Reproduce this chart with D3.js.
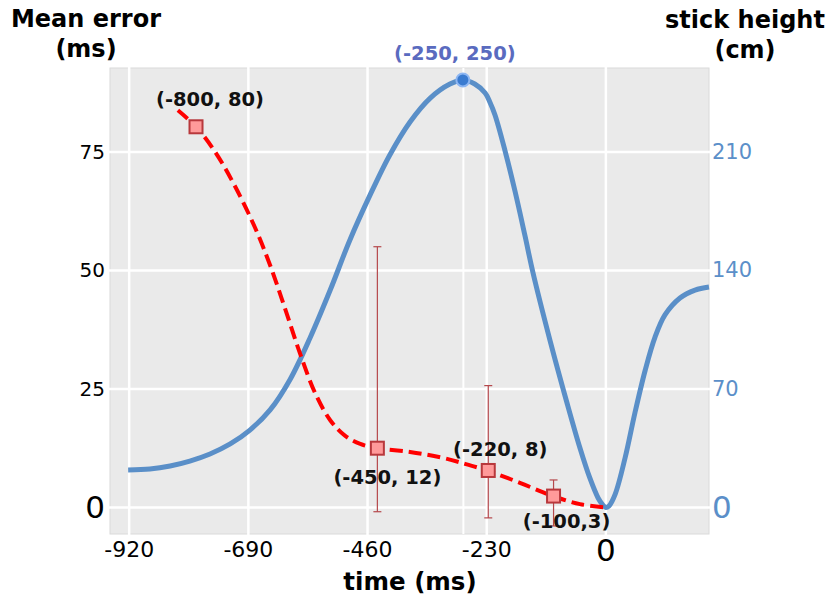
<!DOCTYPE html>
<html><head><meta charset="utf-8">
<script src="https://cdn.jsdelivr.net/npm/d3@7"></script>
<style>body{margin:0;background:#fff}svg{display:block}text{font-family:"DejaVu Sans",sans-serif}</style>
</head><body><svg id="c" width="830" height="598"></svg>
<script>
// ---- data ----
const xTicks = [-920, -690, -460, -230, 0];
const xTickLabels = ["-920", "-690", "-460", "-230", "0"];
const yLeftTicks = [0, 25, 50, 75];
const yRightTicks = [0, 70, 140, 210];
const extraXGrid = [-275];

// stick height (cm) vs time (ms)
const stickTime = [-922,-880,-841,-803,-764,-725,-687,-648,-610,-571,-532,-494,-455,-417,-378,-339,-301,-276,-253,-233,-224,-214,-195,-175,-156,-141,-108,-75,-50,-31,-15,-6,0,6,18,37,56,76,95,114,143,172,199];
const stickHeight = [22.1,22.7,24.5,27.4,31.6,37.5,45.7,57.6,75.3,100.1,128.4,158.0,184.6,208.2,227.7,241.8,250.1,252.5,250.1,244.8,239.5,231.8,211.1,186.3,160.3,139.1,98.9,61.7,35.1,17.4,5.6,1.5,0,0.9,7.9,29.2,55.8,81.2,100.7,113.7,123.7,128.4,130.2];
const peakTime = -276, peakHeight = 252.5, peakLabel = "(-250, 250)";

// mean error curve (ms)
const errCurveTime = [-826,-791,-754,-716,-677,-648,-619,-590,-561,-532,-503,-474,-442,-378,-320,-272,-227,-166,-102,-50,0];
const errCurveVal = [83.8,80.3,75.0,67.8,59.0,51.1,41.9,32.4,24.1,18.4,15.1,13.4,12.5,11.7,10.6,9.2,7.7,5.2,2.4,0.7,0];

// measured points
const ptTime = [-791, -441, -227, -101];
const ptVal = [80.3, 12.5, 7.8, 2.4];
const ptLow = [null, -0.9, -2.2, -3.9];
const ptHigh = [null, 55.0, 25.7, 5.8];
const ptLabels = ["(-800, 80)", "(-450, 12)", "(-220, 8)", "(-100,3)"];

// ---- layout ----
const svg = d3.select("#c");
const L = 110, R = 709, T = 68, B = 534;
const x = d3.scaleLinear().domain([-957, 199]).range([L, R]);
const yL = d3.scaleLinear().domain([-5.6, 92.7]).range([B, T]);
const yR = d3.scaleLinear().domain([-15.68, 259.56]).range([B, T]);

svg.append("rect").attr("x", L).attr("y", T).attr("width", R - L).attr("height", B - T)
  .attr("fill", "#eaeaea").attr("stroke", "#dadada").attr("stroke-width", 1);

const g = svg.append("g");
g.selectAll(".vg").data(xTicks).join("line")
  .attr("x1", d => x(d)).attr("x2", d => x(d)).attr("y1", T - 5).attr("y2", B + 5)
  .attr("stroke", "#fff").attr("stroke-width", 2.5);
g.selectAll(".vg2").data(extraXGrid).join("line")
  .attr("x1", d => x(d)).attr("x2", d => x(d)).attr("y1", T).attr("y2", B)
  .attr("stroke", "#fff").attr("stroke-width", 2);
g.selectAll(".hg").data(yLeftTicks).join("line")
  .attr("x1", L - 4).attr("x2", R + 6).attr("y1", d => yL(d)).attr("y2", d => yL(d))
  .attr("stroke", "#fff").attr("stroke-width", 2.5);

// tick labels
svg.selectAll(".xt").data(xTicks).join("text")
  .attr("x", d => x(d)).attr("y", d => d === 0 ? 561 : 557)
  .attr("text-anchor", "middle")
  .attr("font-size", d => d === 0 ? 31 : 22)
  .attr("fill", "#000")
  .text((d, i) => xTickLabels[i]);
svg.selectAll(".yl").data(yLeftTicks).join("text")
  .attr("x", 105).attr("y", d => yL(d) + (d === 0 ? 11 : 7))
  .attr("text-anchor", "end")
  .attr("font-size", d => d === 0 ? 31 : 20)
  .attr("fill", "#000").text(d => d);
svg.selectAll(".yr").data(yRightTicks).join("text")
  .attr("x", 712).attr("y", d => yR(d) + (d === 0 ? 11 : 7))
  .attr("text-anchor", "start")
  .attr("font-size", d => d === 0 ? 31 : 21)
  .attr("fill", "#5b8fc9").text(d => d);

// axis titles
const t1 = svg.append("text").attr("font-weight", "bold").attr("font-size", 24).attr("text-anchor", "middle");
t1.append("tspan").attr("x", 86).attr("y", 27).text("Mean error");
t1.append("tspan").attr("x", 86).attr("y", 57).text("(ms)");
const t2 = svg.append("text").attr("font-weight", "bold").attr("font-size", 24).attr("text-anchor", "middle");
t2.append("tspan").attr("x", 745).attr("y", 28).text("stick height");
t2.append("tspan").attr("x", 745).attr("y", 58).text("(cm)");
svg.append("text").attr("x", 410).attr("y", 590).attr("text-anchor", "middle")
  .attr("font-weight", "bold").attr("font-size", 24.5).text("time (ms)");

// blue stick height curve
const blue = stickTime.map((t, i) => [t, stickHeight[i]]);
svg.append("path").datum(blue)
  .attr("d", d3.line().x(d => x(d[0])).y(d => yR(d[1])).curve(d3.curveCatmullRom.alpha(0.5)))
  .attr("fill", "none").attr("stroke", "#5a8fc8").attr("stroke-width", 5).attr("stroke-linejoin", "round");

// red dashed error curve
const red = errCurveTime.map((t, i) => [t, errCurveVal[i]]);
svg.append("path").datum(red)
  .attr("d", d3.line().x(d => x(d[0])).y(d => yL(d[1])).curve(d3.curveCatmullRom.alpha(0.5)))
  .attr("fill", "none").attr("stroke", "#ff0000").attr("stroke-width", 4)
  .attr("stroke-dasharray", "13,6");

// error bars
const eb = svg.append("g").attr("stroke", "#b5484c").attr("stroke-width", 1.2);
ptTime.forEach((t, i) => {
  if (ptLow[i] === null) return;
  const cx = x(t);
  eb.append("line").attr("x1", cx).attr("x2", cx).attr("y1", yL(ptLow[i])).attr("y2", yL(ptHigh[i]));
  eb.append("line").attr("x1", cx - 4).attr("x2", cx + 4).attr("y1", yL(ptLow[i])).attr("y2", yL(ptLow[i]));
  eb.append("line").attr("x1", cx - 4).attr("x2", cx + 4).attr("y1", yL(ptHigh[i])).attr("y2", yL(ptHigh[i]));
});

// square markers
svg.selectAll(".sq").data(ptTime).join("rect")
  .attr("x", d => x(d) - 6.5).attr("y", (d, i) => yL(ptVal[i]) - 6.5)
  .attr("width", 13).attr("height", 13)
  .attr("fill", "#ff9a9a").attr("stroke", "#b8383c").attr("stroke-width", 2);

// peak dot
svg.append("circle").attr("cx", x(peakTime)).attr("cy", yR(peakHeight)).attr("r", 6.5)
  .attr("fill", "#3a7bd0").attr("stroke", "#8db6f2").attr("stroke-width", 2);

// annotations
const offs = [[14, -28], [10, 29], [12, -21], [13, 25]];
svg.selectAll(".lab").data(ptTime).join("text")
  .attr("x", (d, i) => x(d) + offs[i][0]).attr("y", (d, i) => yL(ptVal[i]) + offs[i][1] + 7)
  .attr("text-anchor", "middle").attr("font-weight", "bold").attr("font-size", 19.5)
  .attr("fill", "#111").text((d, i) => ptLabels[i]);
svg.append("text").attr("x", x(peakTime) - 8).attr("y", yR(peakHeight) - 20)
  .attr("text-anchor", "middle").attr("font-weight", "bold").attr("font-size", 19.5)
  .attr("fill", "#5a6bbf").text(peakLabel);
</script></body></html>
